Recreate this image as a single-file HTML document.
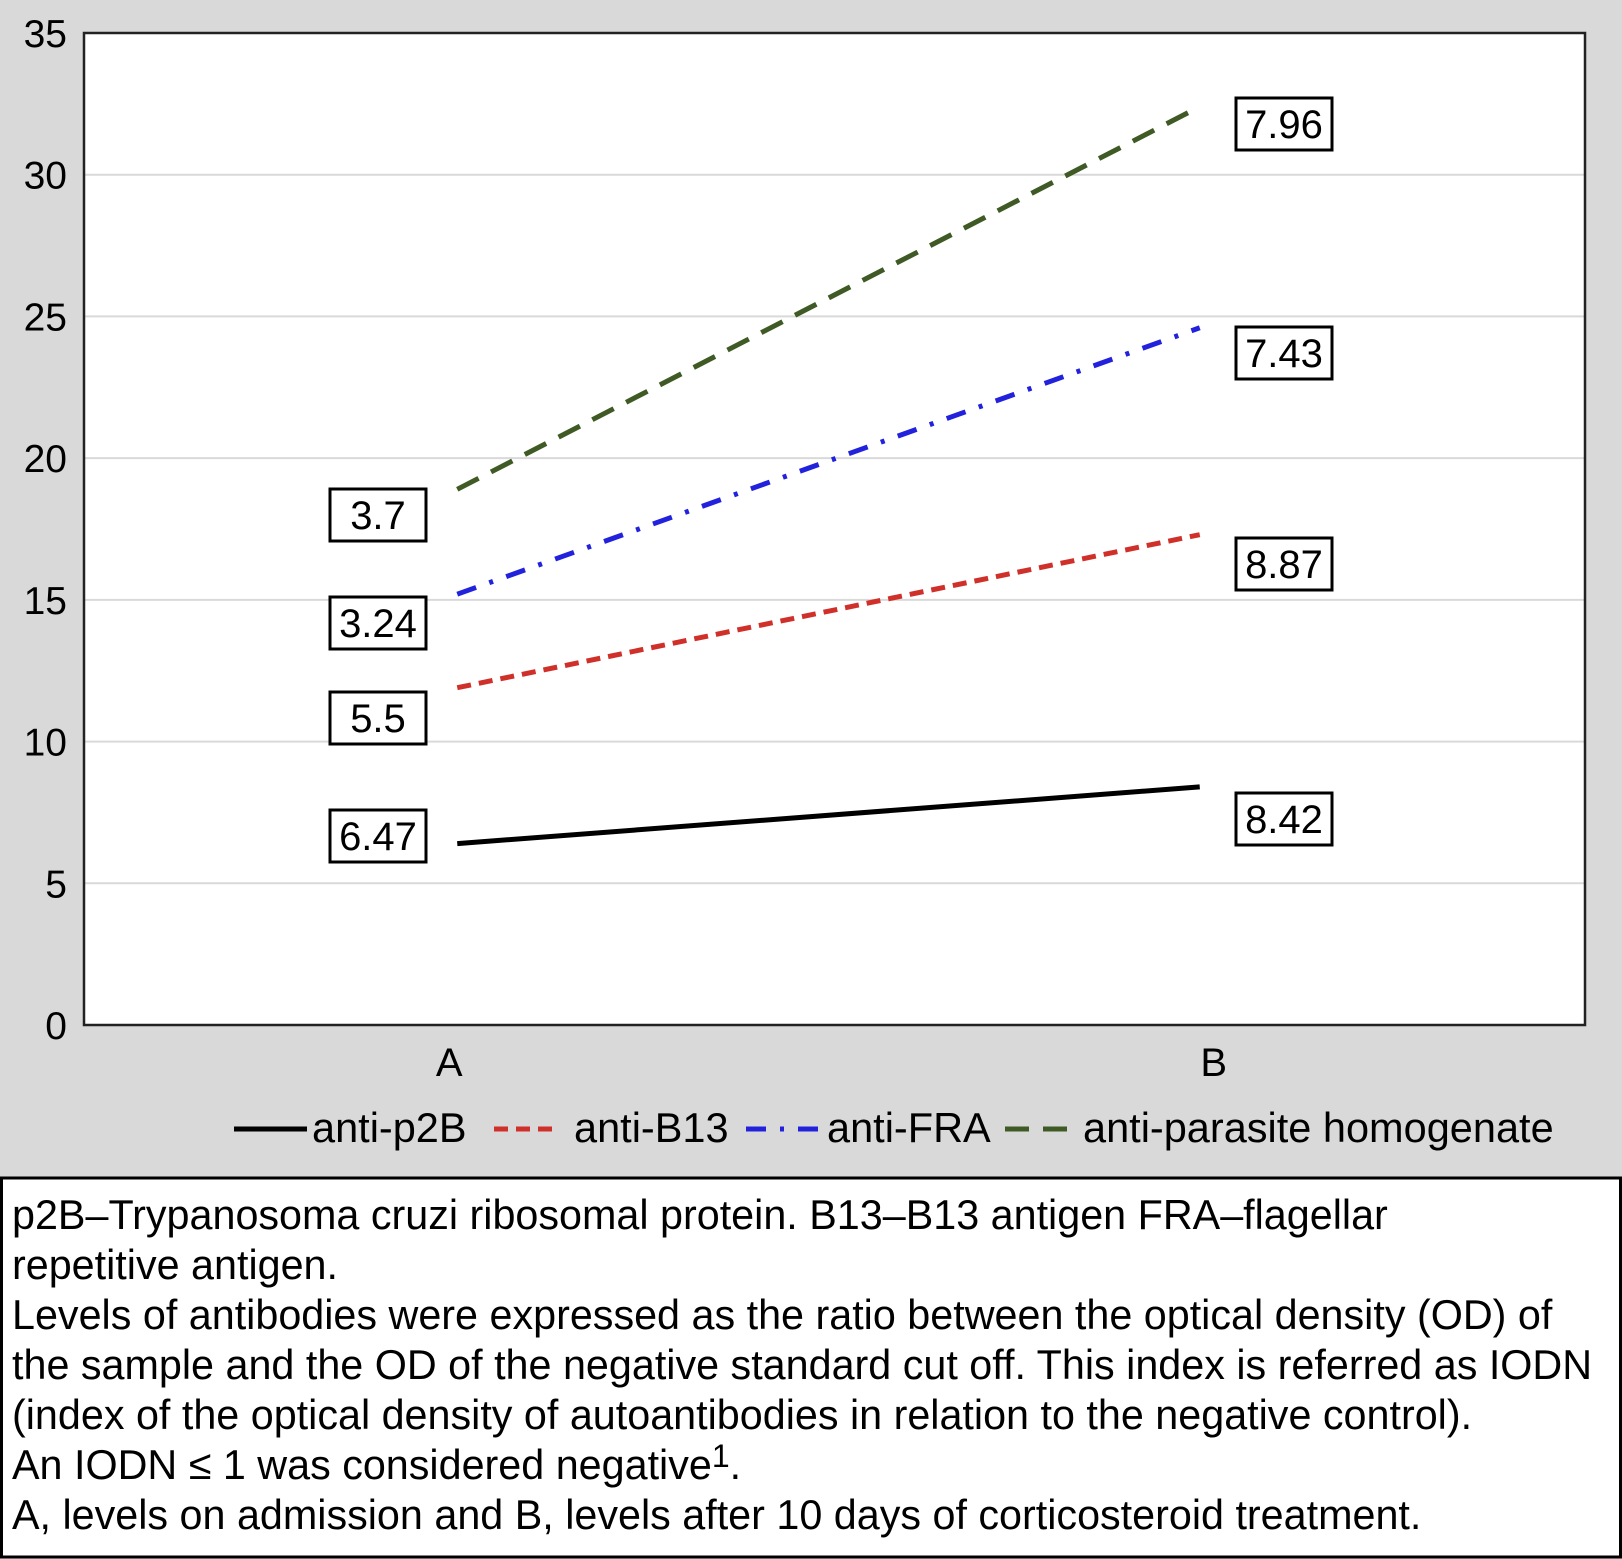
<!DOCTYPE html>
<html><head><meta charset="utf-8"><style>
html,body{margin:0;padding:0;background:#d9d9d9}
svg{display:block}
text{font-family:"Liberation Sans",Arial,sans-serif;fill:#000}
</style></head><body>
<svg id="chart" width="1622" height="1559" viewBox="0 0 1622 1559" xmlns="http://www.w3.org/2000/svg">
<rect x="0" y="0" width="1622" height="1559" fill="#d9d9d9"/>
<rect x="84" y="33" width="1501" height="992" fill="#fff"/>
<g id="grid"></g>
<g id="yticks"></g>
<g id="xticks"></g>
<g id="series"></g>
<g id="labels"></g>
<line x1="84" y1="1025" x2="1585" y2="1025" stroke="#999" stroke-width="2"/>
<rect x="84" y="33" width="1501" height="992" fill="none" stroke="#222" stroke-width="2.5"/>
<g id="legend"></g>
<rect x="1.5" y="1178" width="1619" height="379" fill="#fff" stroke="#000" stroke-width="3"/>
<g font-size="41.3">
<text x="12" y="1229">p2B–Trypanosoma cruzi ribosomal protein. B13–B13 antigen FRA–flagellar</text>
<text x="12" y="1279">repetitive antigen.</text>
<text x="12" y="1329">Levels of antibodies were expressed as the ratio between the optical density (OD) of</text>
<text x="12" y="1379">the sample and the OD of the negative standard cut off. This index is referred as IODN</text>
<text x="12" y="1429">(index of the optical density of autoantibodies in relation  to the negative control).</text>
<text x="12" y="1479">An IODN ≤ 1 was considered negative<tspan font-size="32" dy="-12">1</tspan><tspan dy="12">.</tspan></text>
<text x="12" y="1529">A, levels on admission and B, levels after 10 days of corticosteroid treatment.</text>
</g>
</svg>
<script>
const categories = ["A", "B"];
const seriesNames = ["anti-p2B", "anti-B13", "anti-FRA", "anti-parasite homogenate"];
const p2bValues = [6.4, 8.4];
const b13Values = [11.9, 17.3];
const fraValues = [15.2, 24.6];
const homogenateValues = [18.9, 32.4];
const p2bLabels = ["6.47", "8.42"];
const b13Labels = ["5.5", "8.87"];
const fraLabels = ["3.24", "7.43"];
const homogenateLabels = ["3.7", "7.96"];
const yTicks = [0, 5, 10, 15, 20, 25, 30, 35];

const NS = "http://www.w3.org/2000/svg";
const L = 84, R = 1585, T = 33, B = 1025, YMAX = 35;
const y = v => B - (v / YMAX) * (B - T);
const x = i => L + (R - L) * (i + 0.5) / categories.length;
function mk(tag, attrs, parent) {
  const e = document.createElementNS(NS, tag);
  for (const k in attrs) e.setAttribute(k, attrs[k]);
  parent.appendChild(e);
  return e;
}
const grid = document.getElementById('grid'), yt = document.getElementById('yticks');
yTicks.forEach(v => {
  if (v > 0 && v < YMAX) {
    const g = mk('line', {x1: L, x2: R, y1: y(v), y2: y(v), stroke: '#d9d9d9', 'stroke-width': 2}, grid);
    
    
  }
  const t = mk('text', {x: 67, y: y(v) + 14, 'text-anchor': 'end', 'font-size': 39}, yt);
  t.textContent = v;
  
  
});
const xt = document.getElementById('xticks');
const xNudge = [-10, 4];
categories.forEach((c, i) => {
  const t = mk('text', {x: x(i) + xNudge[i], y: 1076, 'text-anchor': 'middle', 'font-size': 40}, xt);
  t.textContent = c;
  
  
});
const styles = [
  {color: '#000', dash: ''},
  {color: '#d0302a', dash: '14 8'},
  {color: '#2222dd', dash: '20 14 4 14'},
  {color: '#3f5a25', dash: '24 14'}
];
const allVals = [p2bValues, b13Values, fraValues, homogenateValues];
const allLabels = [p2bLabels, b13Labels, fraLabels, homogenateLabels];
const ser = document.getElementById('series'), lab = document.getElementById('labels');
allVals.forEach((vals, s) => {
  const x0 = x(0) - 2, x1 = x(1) - 10;
  const ln = mk('line', {x1: x0, y1: y(vals[0]), x2: x1, y2: y(vals[1]), stroke: styles[s].color, 'stroke-width': 5, 'stroke-dasharray': styles[s].dash}, ser);
  
  
});
const leftCy = [836, 718, 623, 515], rightCy = [819, 564, 353, 124];
allLabels.forEach((lbls, s) => {
  [[330, leftCy[s], lbls[0]], [1236, rightCy[s], lbls[1]]].forEach(([bx, cy, txt]) => {
    const r = mk('rect', {x: bx, y: cy - 26, width: 96, height: 52, fill: '#fff', stroke: '#000', 'stroke-width': 3}, lab);
    
    
    const t = mk('text', {x: bx + 48, y: cy + 14, 'text-anchor': 'middle', 'font-size': 40}, lab);
    t.textContent = txt;
    
    
  });
});
const leg = document.getElementById('legend');
const legPos = [[234, 307, 312], [494, 560, 574], [746, 824, 827], [1005, 1069, 1083]];
seriesNames.forEach((n, s) => {
  const [a, b, tx] = legPos[s];
  const l = mk('line', {x1: a, x2: b, y1: 1129, y2: 1129, stroke: styles[s].color, 'stroke-width': 5, 'stroke-dasharray': styles[s].dash}, leg);
  
  
  const t = mk('text', {x: tx, y: 1142, 'font-size': 41.5}, leg);
  t.textContent = n;
  
  
});
</script>
</body></html>
